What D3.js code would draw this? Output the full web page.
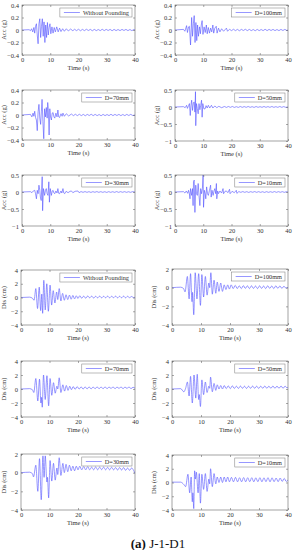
<!DOCTYPE html>
<html>
<head>
<meta charset="utf-8">
<script src="https://cdn.jsdelivr.net/npm/d3@7"></script>
<style>
  body { margin: 0; background: #fff; }
  svg text { font-family: "Liberation Serif", "Times New Roman", serif; fill: #333; }
</style>
</head>
<body>
<svg id="chart" width="295" height="550"></svg>
<script>
// acceleration time histories [time s, acc g]
const accWP = [[0,0],[2.5,0.005],[3,-0.01],[3.4,0.02],[3.8,-0.03],[4.2,0.04],[4.5,-0.05],[4.8,0.06],[5.1,0.1],[5.4,-0.08],[5.7,-0.22],[6,0.1],[6.3,0.18],[6.6,-0.12],[6.9,0.06],[7.2,0.18],[7.5,-0.1],[7.8,0.13],[8.1,-0.2],[8.4,0.08],[8.7,-0.12],[9,0.12],[9.3,-0.08],[9.6,0.04],[9.9,0.1],[10.2,-0.06],[10.6,0.05],[11,-0.05],[11.4,0.04],[11.8,-0.03],[12.3,0.05],[12.8,-0.03],[13.3,0.03],[13.8,-0.025],[14.4,0.02],[15,-0.02],[15.7,0.02],[16.4,-0.015],[17.2,0.015],[18,-0.012],[18.6,0.012],[19.3,-0.01],[20,0.012],[20.7,-0.012],[21.4,0.01],[22.1,-0.01],[22.8,0.012],[23.5,-0.008],[24.2,0.01],[24.9,-0.012],[25.6,0.01],[26.3,-0.01],[27,0.008],[27.7,-0.01],[28.4,0.012],[29.1,-0.01],[29.8,0.01],[30.5,-0.008],[31.2,0.01],[31.9,-0.012],[32.6,0.01],[33.3,-0.01],[34,0.008],[34.7,-0.01],[35.4,0.01],[36.1,-0.008],[36.8,0.01],[37.5,-0.01],[38.2,0.008],[38.9,-0.01],[39.6,0.008],[40,0]];
const accD100 = [[0,0],[3,0.01],[3.5,-0.02],[4.1,0.07],[4.4,-0.04],[4.8,0.05],[5.1,0.06],[5.5,-0.24],[5.9,0.2],[6.2,-0.1],[6.5,0.1],[6.8,0.23],[7.1,-0.2],[7.4,0.12],[7.7,-0.17],[8,0.08],[8.3,-0.1],[8.7,0.05],[9,-0.06],[9.3,0.08],[9.6,0.15],[9.9,-0.07],[10.3,0.05],[10.7,-0.04],[11.1,0.08],[11.4,-0.06],[11.8,0.04],[12.2,-0.05],[12.6,0.03],[13,-0.03],[13.4,0.08],[13.7,-0.05],[14.1,0.03],[14.6,0.06],[14.9,-0.05],[15.4,0.03],[15.9,-0.03],[16.5,0.02],[17.2,-0.02],[18.2,0.03],[18.6,-0.02],[19.3,0.012],[20,-0.01],[20.7,0.012],[21.4,-0.01],[22.1,0.01],[22.8,-0.012],[23.5,0.01],[24.2,-0.008],[24.9,0.012],[25.6,-0.01],[26.3,0.01],[27,-0.01],[27.7,0.008],[28.4,-0.012],[29.1,0.01],[29.8,-0.01],[30.5,0.008],[31.2,-0.01],[31.9,0.012],[32.6,-0.01],[33.3,0.01],[34,-0.008],[34.7,0.01],[35.4,-0.01],[36.1,0.008],[36.8,-0.01],[37.5,0.01],[38.2,-0.008],[38.9,0.01],[39.6,-0.008],[40,0]];
const accD70 = [[0,0],[3,0.01],[3.5,-0.03],[3.9,0.03],[4.2,-0.02],[4.5,0.06],[4.8,-0.04],[5.1,-0.08],[5.4,-0.25],[5.7,0.05],[6,0.17],[6.3,-0.05],[6.6,-0.15],[6.85,0.05],[7.1,0.25],[7.4,-0.1],[7.7,-0.38],[8,0.1],[8.3,-0.03],[8.6,0.12],[8.9,-0.05],[9.1,0.2],[9.3,0.1],[9.6,-0.32],[9.85,0.1],[10.1,-0.03],[10.4,-0.08],[10.7,0.03],[11,0.04],[11.3,-0.03],[11.6,-0.05],[12,0.03],[12.4,-0.03],[12.7,0.08],[13,-0.03],[13.3,-0.04],[13.8,0.02],[14.2,-0.02],[14.5,0.03],[15,-0.02],[15.7,0.02],[16.5,-0.015],[17.5,0.015],[18.2,-0.01],[18.9,0.012],[19.6,-0.01],[20.3,0.012],[21,-0.01],[21.7,0.01],[22.4,-0.012],[23.1,0.01],[23.8,-0.008],[24.5,0.012],[25.2,-0.01],[25.9,0.01],[26.6,-0.01],[27.3,0.008],[28,-0.012],[28.7,0.01],[29.4,-0.01],[30.1,0.008],[30.8,-0.01],[31.5,0.012],[32.2,-0.01],[32.9,0.01],[33.6,-0.008],[34.3,0.01],[35,-0.01],[35.7,0.008],[36.4,-0.01],[37.1,0.01],[37.8,-0.008],[38.5,0.01],[39.2,-0.008],[40,0]];
const accD50 = [[0,0],[3,0.01],[3.6,-0.02],[4.1,0.05],[4.4,-0.04],[4.8,0.04],[5.1,0.1],[5.4,-0.25],[5.65,0.05],[5.9,0.2],[6.2,-0.1],[6.5,0.12],[6.8,0.15],[7.05,-0.15],[7.25,0.45],[7.35,-0.55],[7.6,0.1],[7.9,-0.05],[8.2,-0.2],[8.5,0.1],[8.8,-0.08],[9.1,0.05],[9.4,0.2],[9.6,-0.3],[9.85,0.1],[10.2,-0.05],[10.6,-0.06],[11,0.04],[11.4,-0.03],[11.8,0.05],[12.3,-0.03],[12.9,0.05],[13.4,-0.03],[14.1,0.03],[14.8,-0.02],[15.5,0.02],[16.5,-0.02],[17.5,0.015],[18.2,-0.012],[18.9,0.015],[19.6,-0.01],[20.3,0.015],[21,-0.012],[21.7,0.01],[22.4,-0.012],[23.1,0.015],[23.8,-0.01],[24.5,0.012],[25.2,-0.01],[25.9,0.015],[26.6,-0.01],[27.3,0.01],[28,-0.012],[28.7,0.015],[29.4,-0.01],[30.1,0.01],[30.8,-0.01],[31.5,0.015],[32.2,-0.01],[32.9,0.012],[33.6,-0.01],[34.3,0.015],[35,-0.01],[35.7,0.01],[36.4,-0.01],[37.1,0.015],[37.8,-0.01],[38.5,0.012],[39.2,-0.01],[40,0]];
const accD30 = [[0,0],[3,0.01],[3.5,-0.02],[4,0.03],[4.5,0.05],[4.8,-0.05],[5.1,-0.2],[5.4,0.05],[5.7,-0.05],[6,0.2],[6.3,0.05],[6.5,-0.15],[6.8,-0.25],[7.15,0.45],[7.3,-0.55],[7.6,0.1],[8,-0.1],[8.3,0.05],[8.6,0.1],[8.9,-0.05],[9.2,-0.1],[9.5,0.3],[9.7,-0.3],[10,0.1],[10.4,-0.1],[10.7,0.03],[11,0.05],[11.3,-0.03],[11.6,-0.05],[12,0.03],[12.4,-0.03],[12.7,0.1],[13,-0.04],[13.3,-0.05],[13.8,0.03],[14.1,-0.03],[14.5,0.1],[14.8,-0.03],[15.1,-0.05],[15.6,0.02],[16.3,-0.02],[17,0.02],[17.5,0.03],[18,-0.02],[18.8,0.02],[19.8,0.03],[20.2,-0.02],[20.9,0.012],[21.6,-0.01],[22.3,0.012],[23,-0.01],[23.7,0.01],[24.4,-0.012],[25.1,0.01],[25.8,-0.008],[26.5,0.012],[27.2,-0.01],[27.9,0.01],[28.6,-0.01],[29.3,0.008],[30,-0.012],[30.7,0.01],[31.4,-0.01],[32.1,0.008],[32.8,-0.01],[33.5,0.012],[34.2,-0.01],[34.9,0.01],[35.6,-0.008],[36.3,0.01],[37,-0.01],[37.7,0.008],[38.4,-0.01],[39.1,0.01],[40,0]];
const accD10 = [[0,0],[3,0.01],[3.5,-0.03],[4,0.03],[4.5,-0.04],[4.8,0.05],[5.1,-0.05],[5.3,-0.2],[5.5,0.1],[5.9,-0.1],[6.2,0.1],[6.4,-0.4],[6.55,0.3],[6.8,0.35],[7.05,-0.6],[7.35,0.2],[7.6,-0.05],[7.9,-0.1],[8.2,0.25],[8.5,-0.1],[8.8,-0.4],[9.1,0.1],[9.4,-0.05],[9.7,0.1],[9.95,0.5],[10.1,-0.45],[10.4,0.05],[10.7,-0.05],[10.9,-0.2],[11.2,0.15],[11.5,-0.05],[11.8,-0.1],[12.2,0.05],[12.6,0.2],[12.8,-0.15],[13.1,0.05],[13.5,-0.1],[13.8,0.03],[14.1,0.1],[14.4,-0.05],[14.65,0.25],[14.8,-0.2],[15.1,0.03],[15.4,-0.05],[15.9,0.03],[16.5,-0.03],[17,0.1],[17.2,-0.05],[17.7,0.02],[18.2,0.03],[18.7,-0.02],[19.3,0.08],[19.5,-0.05],[20.2,0.02],[21,-0.02],[21.7,0.05],[21.9,-0.04],[22.6,0.012],[23.3,-0.01],[24,0.012],[24.7,-0.01],[25.4,0.01],[26.1,-0.012],[26.8,0.01],[27.5,-0.008],[28.2,0.012],[28.9,-0.01],[29.6,0.01],[30.3,-0.01],[31,0.008],[31.7,-0.012],[32.4,0.01],[33.1,-0.01],[33.8,0.008],[34.5,-0.01],[35.2,0.012],[35.9,-0.01],[36.6,0.01],[37.3,-0.008],[38,0.01],[38.7,-0.01],[39.4,0.008],[40,0]];

// displacement time histories [time s, dis cm]
const disWP = [[0,0],[3,0.05],[4,-0.1],[4.6,-0.4],[5.2,1.3],[5.8,-1.6],[6.4,1.5],[6.9,-1.9],[7.3,0.5],[7.6,-2.3],[8,2.5],[8.5,-1.8],[9.05,2],[9.6,-2],[10.2,1.8],[10.75,-1.1],[11.3,1],[11.9,-0.8],[12.5,0.8],[12.9,-0.3],[13.4,1.3],[14,-0.5],[14.6,0.6],[15.2,-0.4],[15.8,0.4],[16.4,-0.3],[17,0.35],[17.6,-0.25],[18.2,0.3],[18.8,-0.2],[19.4,0.25],[20,-0.15],[20.6,0.25],[21.3,-0.1],[22,0.2],[22.7,-0.1],[23.4,0.22],[24.1,-0.05],[24.8,0.2],[25.5,-0.08],[26.2,0.18],[26.9,-0.05],[27.6,0.2],[28.3,-0.05],[29,0.18],[29.7,-0.04],[30.4,0.2],[31.1,-0.05],[31.8,0.18],[32.5,-0.03],[33.2,0.2],[33.9,-0.05],[34.6,0.18],[35.3,-0.04],[36,0.2],[36.7,-0.05],[37.4,0.18],[38.1,-0.03],[38.8,0.15],[39.5,-0.02],[40,0.05]];
const disD100 = [[0,0],[3,0.05],[4,-0.1],[4.5,-0.45],[5.3,1.2],[5.9,-1.2],[6.4,1.5],[6.9,-1.5],[7.1,-0.5],[7.5,-2.9],[8,1.6],[8.6,-1.2],[9.2,1.5],[9.8,-1.9],[10.3,1.4],[10.9,-1],[11.5,1.2],[12.1,-0.8],[12.7,0.5],[13,0],[13.4,1.6],[13.9,-0.7],[14.5,0.8],[15.1,-0.6],[15.6,0.6],[16.2,-0.4],[16.8,0.5],[17.4,-0.4],[18,0.3],[18.6,-0.2],[19.2,0.3],[19.8,-0.15],[20.4,0.3],[21.1,-0.1],[21.8,0.25],[22.5,-0.1],[23.2,0.2],[23.9,-0.1],[24.6,0.22],[25.3,-0.08],[26,0.2],[26.7,-0.1],[27.4,0.2],[28.1,-0.08],[28.8,0.18],[29.5,-0.1],[30.2,0.2],[30.9,-0.08],[31.6,0.18],[32.3,-0.1],[33,0.2],[33.7,-0.08],[34.4,0.18],[35.1,-0.1],[35.8,0.2],[36.5,-0.08],[37.2,0.18],[37.9,-0.08],[38.6,0.15],[39.3,-0.05],[40,0.05]];
const disD70 = [[0,0],[3,0.05],[4,-0.1],[4.5,-0.5],[5.2,1.5],[5.9,-1.7],[6.5,1.4],[7,-2],[7.2,-1.2],[7.45,-2.6],[7.9,2],[8.5,-1.5],[9.1,1.9],[9.7,-2.4],[10.2,1.5],[10.8,-0.9],[11.4,0.9],[12,-0.6],[12.6,0.4],[12.9,0],[13.4,1.6],[14,-0.5],[14.7,0.6],[15.3,-0.3],[15.9,0.5],[16.5,-0.2],[17.1,0.4],[17.7,-0.1],[18.3,0.35],[19,-0.05],[19.7,0.35],[20.4,0],[21.1,0.3],[21.8,0],[22.5,0.3],[23.2,0.02],[23.9,0.3],[24.6,0.02],[25.3,0.28],[26,0.05],[26.7,0.3],[27.4,0.05],[28.1,0.28],[28.8,0.05],[29.5,0.3],[30.2,0.05],[30.9,0.28],[31.6,0.08],[32.3,0.3],[33,0.05],[33.7,0.28],[34.4,0.08],[35.1,0.3],[35.8,0.05],[36.5,0.28],[37.2,0.08],[37.9,0.3],[38.6,0.05],[39.3,0.25],[40,0.1]];
const disD50 = [[0,0],[3,0.05],[4.1,-0.4],[4.7,0.1],[5.3,1],[5.9,-1],[6.4,1.8],[7,-2],[7.6,2],[8.2,-1.3],[8.7,2.1],[9.2,-1.5],[9.4,-0.8],[9.8,-2.5],[10.3,1.3],[10.9,-0.8],[11.5,1],[12.1,-0.5],[12.7,0.4],[13,0.1],[13.3,1.7],[13.9,-0.4],[14.5,0.8],[15.1,-0.2],[15.6,0.6],[16.2,0],[16.8,0.5],[17.4,0],[18,0.5],[18.7,0.05],[19.4,0.45],[20.1,0.05],[20.8,0.45],[21.5,0.08],[22.2,0.4],[22.9,0.08],[23.6,0.42],[24.3,0.1],[25,0.4],[25.7,0.08],[26.4,0.4],[27.1,0.1],[27.8,0.42],[28.5,0.1],[29.2,0.4],[29.9,0.08],[30.6,0.4],[31.3,0.1],[32,0.42],[32.7,0.1],[33.4,0.4],[34.1,0.1],[34.8,0.42],[35.5,0.1],[36.2,0.4],[36.9,0.1],[37.6,0.42],[38.3,0.1],[39,0.4],[39.7,0.15],[40,0.3]];
const disD30 = [[0,0],[3,0.05],[4,-0.1],[4.4,-0.45],[5.2,0.8],[5.9,-2],[6.5,1.5],[7.1,-2.9],[7.7,1.8],[8.1,-0.5],[8.5,1.8],[9.1,-1],[9.3,-0.5],[9.7,-2.7],[10.2,1.3],[10.8,-0.9],[11.4,1],[12,-0.8],[12.6,0.5],[12.9,-0.2],[13.4,1.6],[14,-0.3],[14.7,1],[15.2,0],[15.8,0.9],[16.4,0.1],[17,0.8],[17.6,0.2],[18.2,0.7],[18.8,0.2],[19.4,0.7],[20,0.3],[20.6,0.7],[21.3,0.3],[22,0.65],[22.7,0.3],[23.4,0.65],[24.1,0.3],[24.8,0.6],[25.5,0.3],[26.2,0.62],[26.9,0.3],[27.6,0.6],[28.3,0.32],[29,0.6],[29.7,0.3],[30.4,0.58],[31.1,0.3],[31.8,0.58],[32.5,0.3],[33.2,0.55],[33.9,0.28],[34.6,0.55],[35.3,0.28],[36,0.55],[36.7,0.25],[37.4,0.5],[38.1,0.25],[38.8,0.5],[39.5,0.25],[40,-0.1]];
const disD10 = [[0,0.05],[3,0.05],[4.1,-0.3],[4.7,-0.6],[5.5,1.2],[6.1,-1.5],[6.6,0.8],[7,-2.8],[7.2,-1.5],[7.5,-3.8],[7.8,1.7],[8.1,0.5],[8.4,1.5],[9,-1.5],[9.4,1.3],[9.8,-3],[10.3,1.2],[10.9,-1],[11.5,1.3],[12.1,-1.3],[12.7,0.5],[13,-0.2],[13.3,2],[13.9,-0.6],[14.5,1.3],[15.1,-0.2],[15.6,0.8],[16.2,0],[16.8,0.8],[17.4,0],[18,0.8],[18.6,0.1],[19.2,0.8],[19.8,0.1],[20.5,0.75],[21.2,0.1],[21.9,0.75],[22.6,0.1],[23.3,0.7],[24,0.1],[24.7,0.72],[25.4,0.1],[26.1,0.7],[26.8,0.12],[27.5,0.7],[28.2,0.1],[28.9,0.68],[29.6,0.12],[30.3,0.7],[31,0.1],[31.7,0.68],[32.4,0.12],[33.1,0.7],[33.8,0.1],[34.5,0.68],[35.2,0.12],[35.9,0.65],[36.6,0.12],[37.3,0.65],[38,0.15],[38.7,0.6],[39.4,0.15],[40,0.4]];

const legendNames = ["Without Pounding", "D=100mm", "D=70mm", "D=50mm", "D=30mm", "D=10mm"];
const timeTicks = [0, 10, 20, 30, 40];
const accTicksA = [-0.4, -0.2, 0, 0.2, 0.4];
const accTicksB = [-1, -0.5, 0, 0.5];
const disTicks4 = [-4, -2, 0, 2, 4];
const disTicks2 = [-4, -2, 0, 2];

const svg = d3.select("#chart");
const lineColor = "#5050ff";

// panel frames (left, right, top, bottom)
const panels = [
  { data: accWP,   name: legendNames[0], dom: [-0.4, 0.4], ticks: accTicksA, ylab: "Acc (g)",  box: [22, 135, 5, 55] },
  { data: accD100, name: legendNames[1], dom: [-0.4, 0.4], ticks: accTicksA, ylab: "Acc (g)",  box: [175, 288, 5, 55] },
  { data: accD70,  name: legendNames[2], dom: [-0.4, 0.4], ticks: accTicksA, ylab: "Acc (g)",  box: [22, 135, 90, 140] },
  { data: accD50,  name: legendNames[3], dom: [-1, 0.5],   ticks: accTicksB, ylab: "Acc (g)",  box: [175, 288, 90, 141] },
  { data: accD30,  name: legendNames[4], dom: [-1, 0.5],   ticks: accTicksB, ylab: "Acc (g)",  box: [22, 135, 175, 226] },
  { data: accD10,  name: legendNames[5], dom: [-1, 0.5],   ticks: accTicksB, ylab: "Acc (g)",  box: [175, 288, 175, 226] },
  { data: disWP,   name: legendNames[0], dom: [-4, 4],     ticks: disTicks4, ylab: "Dis (cm)", box: [21, 135, 270, 325], smooth: true },
  { data: disD100, name: legendNames[1], dom: [-4, 2],     ticks: disTicks2, ylab: "Dis (cm)", box: [172, 288, 269, 325], smooth: true },
  { data: disD70,  name: legendNames[2], dom: [-4, 4],     ticks: disTicks4, ylab: "Dis (cm)", box: [21, 135, 361, 417], smooth: true },
  { data: disD50,  name: legendNames[3], dom: [-4, 4],     ticks: disTicks4, ylab: "Dis (cm)", box: [172, 288, 361, 417], smooth: true },
  { data: disD30,  name: legendNames[4], dom: [-4, 2],     ticks: disTicks2, ylab: "Dis (cm)", box: [21, 135, 454, 510], smooth: true },
  { data: disD10,  name: legendNames[5], dom: [-4, 4],     ticks: disTicks4, ylab: "Dis (cm)", box: [172, 288, 455, 510], smooth: true }
];

panels.forEach((p, i) => {
  const [l, r, t, b] = p.box;
  const g = svg.append("g");
  const x = d3.scaleLinear().domain([0, 40]).range([l, r]);
  const y = d3.scaleLinear().domain(p.dom).range([b, t]);

  g.append("clipPath").attr("id", "clip" + i)
    .append("rect").attr("x", l).attr("y", t).attr("width", r - l).attr("height", b - t);

  const line = d3.line()
    .x(d => x(d[0]))
    .y(d => y(d[1]))
    .curve(p.smooth ? d3.curveMonotoneX : d3.curveLinear);

  g.append("path")
    .datum(p.data)
    .attr("clip-path", `url(#clip${i})`)
    .attr("fill", "none")
    .attr("stroke", lineColor)
    .attr("stroke-width", 0.6)
    .attr("d", line);

  // axes, ticks pointing inward like MATLAB
  const xa = g.append("g").attr("transform", `translate(0,${b})`)
    .call(d3.axisBottom(x).tickValues(timeTicks).tickSize(-2).tickPadding(3));
  g.append("g").attr("transform", `translate(${l},0)`)
    .call(d3.axisLeft(y).tickValues(p.ticks).tickSize(-2).tickPadding(3).tickFormat(d3.format("")));
  g.append("g").attr("transform", `translate(0,${t})`)
    .call(d3.axisTop(x).tickValues(timeTicks).tickSize(-2).tickFormat(""));
  g.append("g").attr("transform", `translate(${r},0)`)
    .call(d3.axisRight(y).tickValues(p.ticks).tickSize(-2).tickFormat(""));

  g.selectAll(".domain").remove();
  g.selectAll(".tick line").attr("stroke", "#555").attr("stroke-width", 0.5);
  g.selectAll(".tick text").attr("font-size", 6.5).attr("fill", "#333")
    .attr("font-family", "Liberation Serif");
  xa.selectAll(".tick text").attr("dy", "0.55em");

  g.append("rect")
    .attr("x", l).attr("y", t).attr("width", r - l).attr("height", b - t)
    .attr("fill", "none").attr("stroke", "#666").attr("stroke-width", 0.6);

  g.append("text")
    .attr("x", (l + r) / 2).attr("y", b + 15)
    .attr("text-anchor", "middle").attr("font-size", 6.5)
    .text("Time (s)");

  const ylx = l < 100 ? 6 : l - 16;
  g.append("text")
    .attr("transform", `translate(${ylx},${(t + b) / 2}) rotate(-90)`)
    .attr("text-anchor", "middle").attr("font-size", 6.5)
    .text(p.ylab);

  // legend
  const lg = g.append("g");
  const box = lg.append("rect");
  const txt = lg.append("text").attr("font-size", 6.3).text(p.name);
  const tw = txt.node().getComputedTextLength();
  const lw = 4 + 16 + 3 + tw + 3;
  const lh = 9;
  const lx = r - 3 - lw, ly = t + 3;
  box.attr("x", lx).attr("y", ly).attr("width", lw).attr("height", lh)
    .attr("fill", "#fff").attr("stroke", "#777").attr("stroke-width", 0.5);
  lg.append("line")
    .attr("x1", lx + 4).attr("x2", lx + 20)
    .attr("y1", ly + lh / 2).attr("y2", ly + lh / 2)
    .attr("stroke", lineColor).attr("stroke-width", 0.6);
  txt.attr("x", lx + 23).attr("y", ly + lh / 2 + 2.2);
});

// caption
const cap = svg.append("text")
  .attr("x", 158).attr("y", 548)
  .attr("text-anchor", "middle").attr("font-size", 13)
  .style("fill", "#111");
cap.append("tspan").attr("font-weight", "bold").text("(a)");
cap.append("tspan").text(" J-1-D1");
</script>
</body>
</html>
